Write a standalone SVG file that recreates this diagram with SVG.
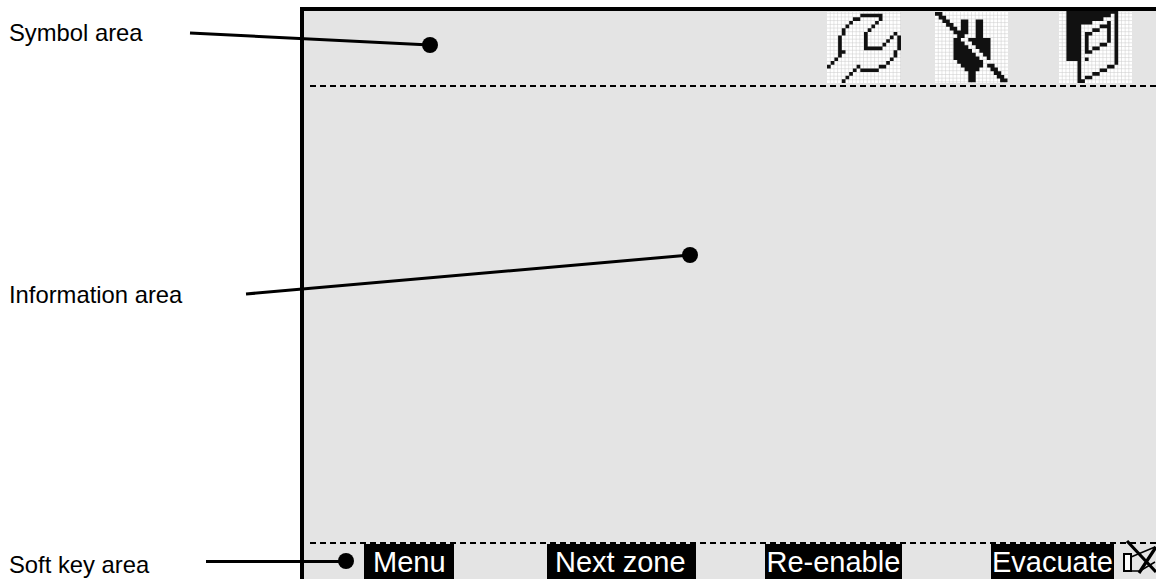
<svg xmlns="http://www.w3.org/2000/svg" width="1156" height="579" viewBox="0 0 1156 579">
<style>
.lbl{font:23.8px "Liberation Sans",Arial,sans-serif;fill:#000}
.key{font:29px "Liberation Sans",Arial,sans-serif;fill:#fff}
.lead{stroke:#000;stroke-width:3;fill:none}
.dash{stroke:#000;stroke-width:2;stroke-dasharray:6 4;fill:none}
.frame{stroke:#000;stroke-width:4;fill:none}
</style>
<defs>
<pattern id="cells" width="3.7" height="3.7" patternUnits="userSpaceOnUse"><rect width="3.7" height="3.7" fill="#fff"/><path d="M3.7 0V3.7H0" fill="none" stroke="#c6c6c6" stroke-width=".9"/></pattern>
</defs>
<rect id="display" x="302" y="9" width="854" height="570" fill="#e4e4e4"/>
<g id="symbol-icons">
<g id="icon-wrench" transform="translate(827 10)">
<rect y="2" width="74" height="71" fill="url(#cells)"/>
<g transform="scale(3.7 3.65)" fill="#111"><path d="M9 1h6v1h-6zM7 2h2v1h-2zM14 2h1v1h-1zM6 3h1v1h-1zM13 3h1v1h-1zM5 4h1v1h-1zM12 4h1v1h-1zM4 5h1v2h-1zM11 5h1v1h-1zM10 6h1v5h-1zM18 6h1v1h-1zM3 7h1v5h-1zM17 7h1v1h-1zM19 7h1v4h-1zM16 8h1v1h-1zM15 9h1v1h-1zM11 10h4v1h-4zM18 11h1v2h-1zM4 11h1v1h-1zM3 12h1v1h-1zM2 13h1v1h-1zM17 13h1v1h-1zM1 14h1v1h-1zM16 14h1v1h-1zM0 15h1v1h-1zM14 15h2v1h-2zM8 15h1v1h-1zM9 16h5v1h-5zM7 16h1v1h-1zM6 17h1v1h-1zM5 18h1v1h-1zM4 19h1v1h-1z"/></g>
</g>
<g id="icon-plug" transform="translate(935 12)">
<rect width="73" height="71" fill="url(#cells)"/>
<g transform="scale(3.7)" fill="#111"><path d="M0 0h2v1h-2zM1 1h2v1h-2zM2 2h2v1h-2zM3 3h2v1h-2zM4 4h2v1h-2zM5 5h2v1h-2zM6 6h2v1h-2zM7 2h2v4h-2zM11 2h2v6h-2zM5 7h2v1h-2zM5 8h3v1h-3zM5 9h4v1h-4zM5 10h5v1h-5zM5 11h6v1h-6zM5 12h7v1h-7zM6 13h7v1h-7zM7 14h6v1h-6zM8 15h4v1h-4zM9 16h2v3h-2zM9 7h6v1h-6zM10 8h5v1h-5zM11 9h4v1h-4zM12 10h3v1h-3zM13 11h2v1h-2zM14 12h1v1h-1zM14.100 14h2v1h-2zM15 15h2v1h-2zM15.900 16h2v1h-2zM16.700 17h2v1h-2zM17.600 18h2v1h-2z"/></g>
</g>
<g id="icon-door" transform="translate(1059 10)">
<rect y="2" width="73" height="71" fill="url(#cells)"/>
<g transform="scale(3.7 3.65)" fill="#111"><path d="M2 0h14v1h-14zM2 1h12v1h-12zM15 1h1v14h-1zM2 2h10v1h-10zM2 3h7v1h-7zM2 4h4v1h-4zM2 5h3v9h-3zM5 4h1v16h-1zM6 19h1v1h-1zM7 18h2v1h-2zM9 17h2v1h-2zM11 16h2v1h-2zM13 15h2v1h-2zM7 6h2v1h-2zM7 7h1v5h-1zM9 5h2v1h-2zM11 4h2v1h-2zM13 3h1v6h-1zM11 9h2v1h-2zM9 10h2v1h-2zM8 11h1v1h-1zM7 13h1v1h-1z"/></g>
</g>
</g>
<g id="frame">
<path class="frame" d="M302 579V9H1156"/>
<path class="dash" d="M310 86H1156"/>
<path class="dash" d="M310 543H1156"/>
</g>
<g id="soft-keys">
<g id="key-menu"><rect x="364" y="544" width="90" height="35"/><text class="key" x="373" y="572">Menu</text></g>
<g id="key-next"><rect x="547" y="544" width="149" height="35"/><text class="key" x="555" y="572">Next zone</text></g>
<g id="key-reenable"><rect x="765" y="544" width="137" height="35"/><text class="key" x="766.500" y="572">Re-enable</text></g>
<g id="key-evacuate"><rect x="991" y="544" width="123" height="35"/><text class="key" x="992" y="572">Evacuate</text></g>
<g id="mute-icon" fill="none" stroke="#000">
<rect x="1124" y="554" width="7" height="17" fill="#fff" stroke-width="2"/>
<path d="M1131 557L1155 547M1131 571H1140L1155 562" stroke-width="1.500"/>
<path d="M1127 541L1156 572M1156 547L1139 573" stroke-width="3.200"/>
</g>
</g>
<g id="connectors">
<path class="lead" d="M190 33L430 45"/>
<path class="lead" d="M246 294L690 255"/>
<path class="lead" d="M206 561.500H346"/>
<circle cx="430" cy="45" r="8"/>
<circle cx="690" cy="255" r="8"/>
<circle cx="346" cy="561" r="8"/>
</g>
<g id="labels">
<text class="lbl" x="9" y="41">Symbol area</text>
<text class="lbl" x="9" y="303">Information area</text>
<text class="lbl" x="9" y="573">Soft key area</text>
</g>
</svg>
